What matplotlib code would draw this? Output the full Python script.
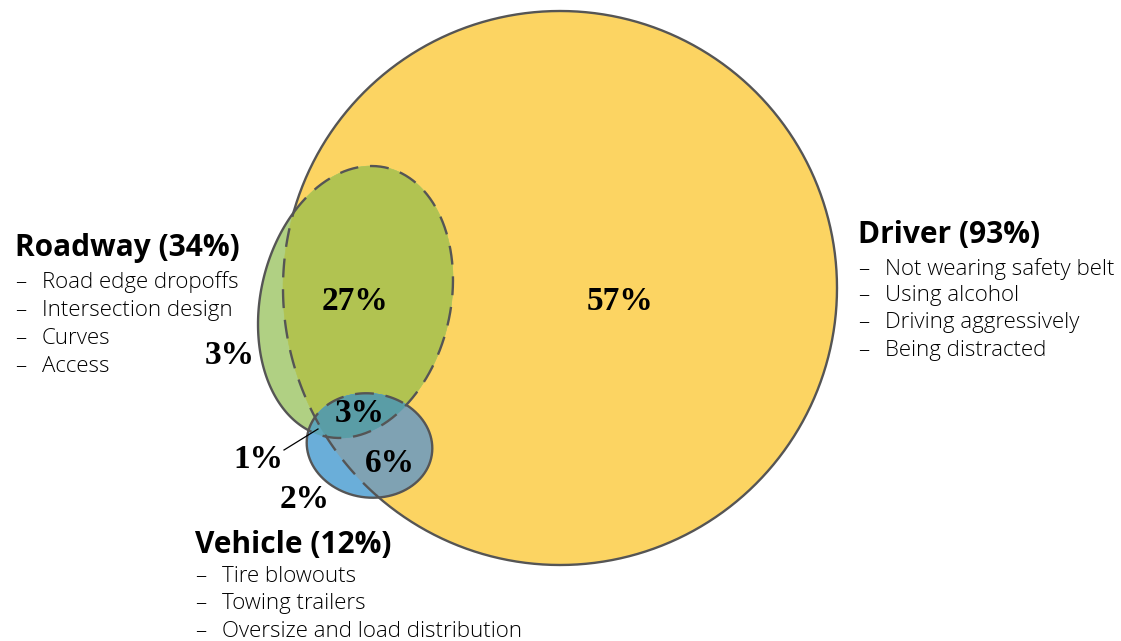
import numpy as np
import matplotlib
matplotlib.use("Agg")
import matplotlib.pyplot as plt
from matplotlib.path import Path

# Share of crashes by contributing factor (percent)
groups = ["Driver", "Roadway", "Vehicle"]
group_totals = [93, 34, 12]
group_items = [
    ["Not wearing safety belt", "Using alcohol", "Driving aggressively", "Being distracted"],
    ["Road edge dropoffs", "Intersection design", "Curves", "Access"],
    ["Tire blowouts", "Towing trailers", "Oversize and load distribution"],
]

# Region values: driver only, roadway only, vehicle only, driver+roadway,
# driver+vehicle, roadway+vehicle, all three
region_names = ["D", "R", "V", "DR", "DV", "RV", "DRV"]
region_values = [57, 3, 2, 27, 6, 1, 3]

LINE = "#555555"
COLORS = {
    "D": "#FCD462",
    "R": "#B0D083",
    "V": "#6AAED9",
    "DR": "#B1C351",
    "DV": "#7FA2B3",
    "RV": "#5FA6B8",
    "DRV": "#5A9DA6",
}


def ellipse(cx, cy, a, b, ang, n=400):
    t = np.linspace(0, 2 * np.pi, n, endpoint=False)
    th = np.radians(ang)
    x = cx + a * np.cos(t) * np.cos(th) - b * np.sin(t) * np.sin(th)
    y = cy + a * np.cos(t) * np.sin(th) + b * np.sin(t) * np.cos(th)
    return np.column_stack([x, y])


def clip(subject, clipper):
    # Sutherland-Hodgman, clipper must be convex
    area = np.sum(clipper[:, 0] * np.roll(clipper[:, 1], -1) - np.roll(clipper[:, 0], -1) * clipper[:, 1])
    sign = 1.0 if area > 0 else -1.0
    out = [tuple(p) for p in subject]
    n = len(clipper)
    for i in range(n):
        if not out:
            break
        ax_, ay_ = clipper[i]
        bx_, by_ = clipper[(i + 1) % n]

        def inside(p):
            return sign * ((bx_ - ax_) * (p[1] - ay_) - (by_ - ay_) * (p[0] - ax_)) >= 0

        def cross(p, q):
            dx, dy = q[0] - p[0], q[1] - p[1]
            ex, ey = bx_ - ax_, by_ - ay_
            den = dx * ey - dy * ex
            if den == 0:
                return q
            s = ((ax_ - p[0]) * ey - (ay_ - p[1]) * ex) / den
            return (p[0] + s * dx, p[1] + s * dy)

        inp = out
        out = []
        s = inp[-1]
        for e in inp:
            if inside(e):
                if not inside(s):
                    out.append(cross(s, e))
                out.append(e)
            elif inside(s):
                out.append(cross(s, e))
            s = e
    return np.array(out)


def outline(ax, pts, dashed_mask):
    # split the closed boundary into solid and dashed runs
    n = len(pts)
    start = np.argmax(dashed_mask != dashed_mask[0]) if dashed_mask.any() and not dashed_mask.all() else 0
    order = np.roll(np.arange(n), -start)
    m = dashed_mask[order]
    p = pts[order]
    cuts = np.flatnonzero(np.diff(m.astype(int))) + 1
    bounds = [0] + list(cuts) + [n]
    for i0, i1 in zip(bounds[:-1], bounds[1:]):
        seg = p[i0:min(i1 + 1, n)]
        if i1 == n:
            seg = np.vstack([seg, p[:1]])
        if m[i0]:
            ax.plot(seg[:, 0], seg[:, 1], color=LINE, lw=1.7, ls=(0, (8, 5)),
                    solid_capstyle="butt", dash_capstyle="butt")
        else:
            ax.plot(seg[:, 0], seg[:, 1], color=LINE, lw=1.7, solid_capstyle="round")


driver = ellipse(560, 288, 277, 277, 0)
road = ellipse(355.5, 302, 137.8, 94.9, -77.1)
vehicle = ellipse(369.5, 445.5, 63, 52, 8)

fig = plt.figure(figsize=(11.21, 6.41), dpi=100)
ax = fig.add_axes([0, 0, 1, 1])
ax.set_xlim(0, 1121)
ax.set_ylim(641, 0)
ax.axis("off")

regions = {
    "D": driver,
    "R": road,
    "DR": clip(road, driver),
    "V": vehicle,
    "DV": clip(vehicle, driver),
    "RV": clip(vehicle, road),
}
regions["DRV"] = clip(regions["DV"], road)
for key in ["D", "R", "DR", "V", "DV", "RV", "DRV"]:
    poly = regions[key]
    ax.fill(poly[:, 0], poly[:, 1], color=COLORS[key], lw=0.4, ec=COLORS[key])

in_d = lambda pts: Path(driver).contains_points(pts)
in_r = lambda pts: Path(road).contains_points(pts)
in_v = lambda pts: Path(vehicle).contains_points(pts)

outline(ax, driver, in_r(driver) | in_v(driver))
outline(ax, road, in_d(road) | in_v(road))
outline(ax, vehicle, in_r(vehicle))

# region percentages
label_pos = {
    "D": (620, 301),
    "R": (230, 356),
    "V": (305, 500),
    "DR": (355, 302),
    "DV": (390, 463),
    "RV": (258, 460),
    "DRV": (360, 414),
}
pct_font = dict(family="Liberation Serif", weight="bold", size=24)
for name, val in zip(region_names, region_values):
    x, y = label_pos[name]
    ax.text(x, y, f"{val}%", ha="center", va="center", **pct_font)
ax.plot([284, 318], [450, 429], color="black", lw=0.9)

# group headers with their factor lists
header_pos = [(858, 243), (15, 256), (195, 553)]
item_rows = [[275, 301, 328, 356], [288, 316, 344, 372], [582, 609, 637]]
item_font = dict(family="Open Sans", weight="light", size=16)
for name, total, items, (hx, hy), rows in zip(groups, group_totals, group_items, header_pos, item_rows):
    ax.text(hx, hy, f"{name} ({total}%)", ha="left", va="baseline",
            family="Open Sans", weight="bold", size=21.5)
    for item, ry in zip(items, rows):
        ax.text(hx, ry, "\u2013", ha="left", va="baseline", **item_font)
        ax.text(hx + 27, ry, item, ha="left", va="baseline", **item_font)

fig.savefig("out.png", dpi=100)
